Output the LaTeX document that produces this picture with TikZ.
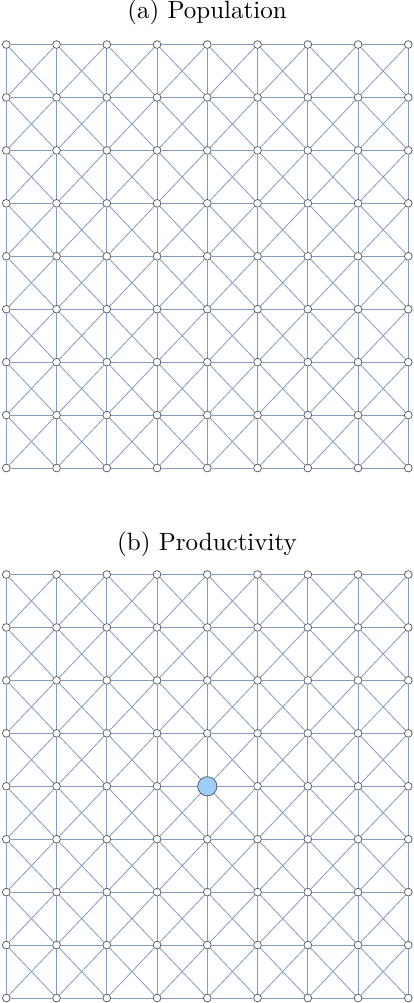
\documentclass[tikz,border=0pt]{standalone}
\usepackage{xcolor}
\usepackage{tikz}
\usetikzlibrary{positioning, calc}

\definecolor{edgeblue}{RGB}{128,156,192}
\definecolor{hubblue}{RGB}{158,205,250}

\begin{document}
\begin{tikzpicture}[
    x=0.4pt, y=-0.4pt,
    cell/.style={circle, draw=black!65, fill=white, inner sep=0pt, minimum size=3.1pt, line width=0.3pt},
    hub/.style={circle, draw=black!65, fill=hubblue, inner sep=0pt, minimum size=7.7pt, line width=0.3pt},
    link/.style={draw=edgeblue, line width=0.32pt}
]
\useasboundingbox (0,0) rectangle (414,1003);

% Titles
\node (title-a) at (207,12.5) {(a) Population};
\node (title-b) at (207,544) {(b) Productivity};

% Lattices
\foreach \g/\ytop in {a/44.5, b/574.5} {
  % Sites
  \foreach \i in {0,...,8} {
    \foreach \j in {0,...,8} {
      \node[cell] (\g-\i-\j) at ({6.3+50.25*\i},{\ytop+52.94*\j}) {};
    }
  }
  % Horizontal and vertical links
  \foreach \i [evaluate=\i as \k using int(\i+1)] in {0,...,7} {
    \foreach \j in {0,...,8} {
      \draw[link] (\g-\i-\j) -- (\g-\k-\j);
      \draw[link] (\g-\j-\i) -- (\g-\j-\k);
    }
  }
  % Diagonal links
  \foreach \i [evaluate=\i as \k using int(\i+1)] in {0,...,7} {
    \foreach \j [evaluate=\j as \m using int(\j+1)] in {0,...,7} {
      \draw[link] (\g-\i-\j) -- (\g-\k-\m);
      \draw[link] (\g-\k-\j) -- (\g-\i-\m);
    }
  }
}

% Highlighted site
\node[hub] (hub) at (b-4-4) {};

\end{tikzpicture}
\end{document}
